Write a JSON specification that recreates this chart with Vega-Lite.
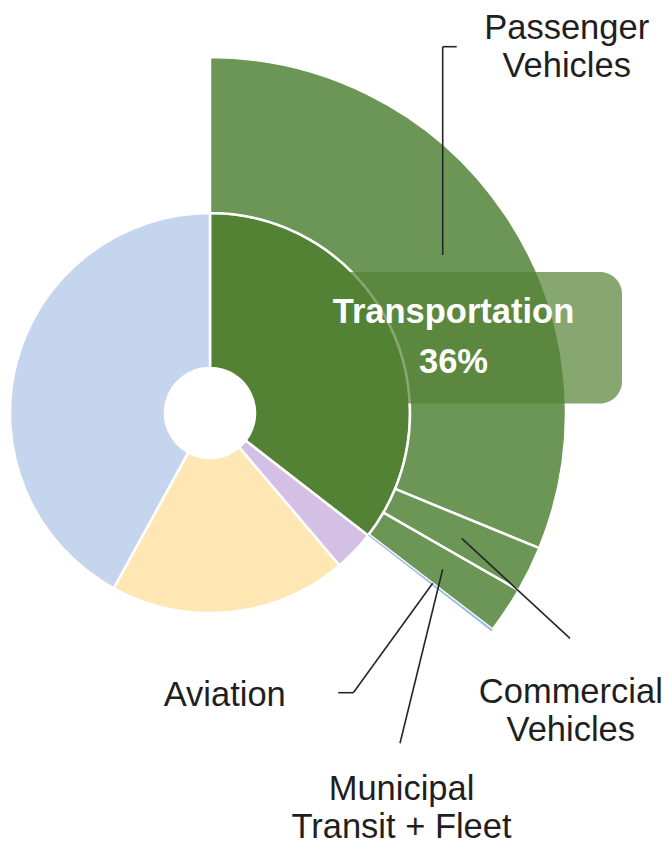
{
  "$schema": "https://vega.github.io/schema/vega-lite/v6.json",
  "width": 420,
  "height": 826,
  "autosize": {"type": "none"},
  "padding": {"left": 0, "top": 0, "right": 247, "bottom": 18},
  "background": "white",
  "config": {"view": {"stroke": null}, "text": {"font": "Liberation Sans"}},
  "datasets": {
    "sectors": [
      {"name": "Transportation", "share": 35.5, "rank": 1},
      {"name": "Other sector A", "share": 3.3, "rank": 2},
      {"name": "Other sector B", "share": 19.2, "rank": 3},
      {"name": "Other sector C", "share": 42.0, "rank": 4}
    ],
    "transport": [
      {"name": "Passenger Vehicles", "share": 31.2, "rank": 1},
      {"name": "Commercial Vehicles", "share": 2.1, "rank": 2},
      {"name": "Municipal Transit + Fleet", "share": 2.1, "rank": 3},
      {"name": "Aviation", "share": 0.1, "rank": 4}
    ],
    "callouts": [
      {"name": "Passenger Vehicles", "x": 1.1635, "y": -0.79, "x2": 1.1635, "y2": -1.8315},
      {"name": "Passenger Vehicles", "x": 1.1635, "y": -1.8315, "x2": 1.2335, "y2": -1.8315},
      {"name": "Commercial Vehicles", "x": 1.2585, "y": 0.6265, "x2": 1.8, "y2": 1.1265},
      {"name": "Municipal Transit + Fleet", "x": 1.1635, "y": 0.7815, "x2": 0.95, "y2": 1.6515},
      {"name": "Aviation", "x": 1.1135, "y": 0.8515, "x2": 0.7165, "y2": 1.3985},
      {"name": "Aviation", "x": 0.7165, "y": 1.3985, "x2": 0.6415, "y2": 1.3985}
    ],
    "labels": [
      {"name": "Passenger Vehicles", "lines": ["Passenger", "Vehicles"], "lx": 1.7835, "ly": -1.87},
      {"name": "Commercial Vehicles", "lines": ["Commercial", "Vehicles"], "lx": 1.804, "ly": 1.4515},
      {"name": "Municipal Transit + Fleet", "lines": ["Municipal", "Transit + Fleet"], "lx": 0.9575, "ly": 1.935},
      {"name": "Aviation", "lines": ["Aviation"], "lx": 0.0735, "ly": 1.4625}
    ]
  },
  "layer": [
    {
      "data": {"name": "sectors"},
      "mark": {"type": "arc", "innerRadius": 45, "outerRadius": 200, "stroke": "white", "strokeWidth": 2.5},
      "encoding": {
        "theta": {"field": "share", "type": "quantitative", "stack": true},
        "order": {"field": "rank", "type": "quantitative"},
        "color": {
          "field": "name", "type": "nominal", "legend": null,
          "scale": {
            "domain": ["Transportation", "Other sector A", "Other sector B", "Other sector C", "Passenger Vehicles", "Commercial Vehicles", "Municipal Transit + Fleet", "Aviation"],
            "range": ["#548235", "#d3c0e4", "#fee7b3", "#c6d5ee", "#6c9655", "#6c9655", "#6c9655", "#9dbde6"]
          }
        }
      }
    },
    {
      "data": {"name": "transport"},
      "mark": {"type": "arc", "innerRadius": 200, "outerRadius": 356, "stroke": "white"},
      "encoding": {
        "theta": {"field": "share", "type": "quantitative", "stack": true},
        "order": {"field": "rank", "type": "quantitative"},
        "strokeWidth": {"condition": {"test": "datum.name === 'Aviation'", "value": 0}, "value": 2.5},
        "color": {
          "field": "name", "type": "nominal", "legend": null,
          "scale": {
            "domain": ["Transportation", "Other sector A", "Other sector B", "Other sector C", "Passenger Vehicles", "Commercial Vehicles", "Municipal Transit + Fleet", "Aviation"],
            "range": ["#548235", "#d3c0e4", "#fee7b3", "#c6d5ee", "#6c9655", "#6c9655", "#6c9655", "#9dbde6"]
          }
        }
      }
    },
    {
      "data": {"name": "sectors"},
      "transform": [{"filter": "datum.name === 'Transportation'"}],
      "mark": {"type": "rect", "cornerRadius": 22, "fill": "#548235", "opacity": 0.7},
      "encoding": {
        "x": {"datum": 0.4, "type": "quantitative", "axis": null, "scale": {"domain": [-1.05, 1.05], "nice": false, "zero": false}},
        "x2": {"datum": 2.06},
        "y": {"datum": -0.705, "type": "quantitative", "axis": null, "scale": {"domain": [-2.065, 2.065], "reverse": true, "nice": false, "zero": false}},
        "y2": {"datum": -0.0475}
      }
    },
    {
      "data": {"name": "sectors"},
      "transform": [{"filter": "datum.name === 'Transportation'"}],
      "mark": {"type": "text", "align": "center", "baseline": "alphabetic", "fontSize": 34.5, "fontWeight": "bold", "color": "white", "lineHeight": 49.4},
      "encoding": {
        "text": {"value": ["Transportation", "36%"]},
        "x": {"datum": 1.2175, "type": "quantitative", "axis": null, "scale": {"domain": [-1.05, 1.05], "nice": false, "zero": false}},
        "y": {"datum": -0.4485, "type": "quantitative", "axis": null, "scale": {"domain": [-2.065, 2.065], "reverse": true, "nice": false, "zero": false}}
      }
    },
    {
      "data": {"name": "callouts"},
      "mark": {"type": "rule", "color": "#262626", "strokeWidth": 1.6},
      "encoding": {
        "x": {"field": "x", "type": "quantitative", "axis": null, "scale": {"domain": [-1.05, 1.05], "nice": false, "zero": false}},
        "x2": {"field": "x2"},
        "y": {"field": "y", "type": "quantitative", "axis": null, "scale": {"domain": [-2.065, 2.065], "reverse": true, "nice": false, "zero": false}},
        "y2": {"field": "y2"}
      }
    },
    {
      "data": {"name": "labels"},
      "mark": {"type": "text", "align": "center", "baseline": "alphabetic", "fontSize": 34.5, "color": "#1f1f1f", "lineHeight": 38},
      "encoding": {
        "text": {"field": "lines"},
        "x": {"field": "lx", "type": "quantitative", "axis": null, "scale": {"domain": [-1.05, 1.05], "nice": false, "zero": false}},
        "y": {"field": "ly", "type": "quantitative", "axis": null, "scale": {"domain": [-2.065, 2.065], "reverse": true, "nice": false, "zero": false}}
      }
    }
  ]
}
